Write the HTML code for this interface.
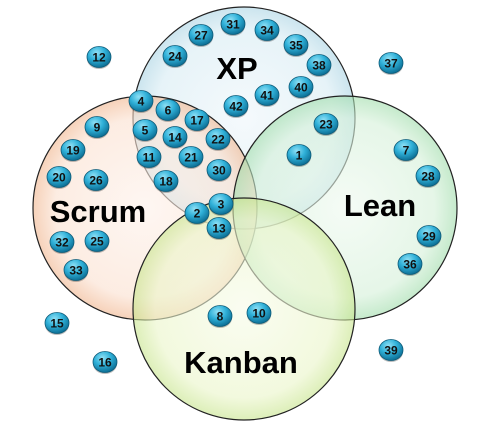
<!DOCTYPE html>
<html><head><style>body{margin:0;background:#fff}</style></head><body>
<svg width="482" height="428" xmlns="http://www.w3.org/2000/svg">
<defs>
<radialGradient id="gx" cx="50%" cy="50%" r="50%"><stop offset="0" stop-color="#eef6fa"/><stop offset="0.8" stop-color="#d6ebf3"/><stop offset="1" stop-color="#a9d3e3"/></radialGradient>
<radialGradient id="gs" cx="50%" cy="50%" r="50%"><stop offset="0" stop-color="#fdf1ea"/><stop offset="0.8" stop-color="#fbe0cf"/><stop offset="1" stop-color="#f0b48c"/></radialGradient>
<radialGradient id="gl" cx="50%" cy="50%" r="50%"><stop offset="0" stop-color="#eef9ef"/><stop offset="0.8" stop-color="#d4f0d8"/><stop offset="1" stop-color="#9fdcaa"/></radialGradient>
<radialGradient id="gk" cx="50%" cy="50%" r="50%"><stop offset="0" stop-color="#f7fbe8"/><stop offset="0.8" stop-color="#eaf5c8"/><stop offset="1" stop-color="#c6e48a"/></radialGradient>
<radialGradient id="gb" cx="40%" cy="30%" r="70%"><stop offset="0" stop-color="#8fe0f5"/><stop offset="0.5" stop-color="#2fb0d8"/><stop offset="1" stop-color="#0d6f95"/></radialGradient>
<g id="bb"><ellipse cx="0" cy="2" rx="12" ry="10" fill="#000" opacity="0.25"/><ellipse cx="0" cy="0" rx="12" ry="10.5" fill="url(#gb)" stroke="#0b5a78" stroke-width="0.8"/></g>
</defs>
<g fill-opacity="0.6" stroke="#222" stroke-width="1.2">
<circle cx="244" cy="118" r="111" fill="url(#gx)"/>
<circle cx="145" cy="208" r="112" fill="url(#gs)"/>
<circle cx="345" cy="208" r="112" fill="url(#gl)"/>
<circle cx="244" cy="309" r="111" fill="url(#gk)"/>
</g>
<g font-family="Liberation Sans, sans-serif" font-weight="bold" font-size="31" fill="#000" text-anchor="middle">
<text x="237" y="79">XP</text>
<text x="98" y="222">Scrum</text>
<text x="380" y="216">Lean</text>
<text x="241" y="373">Kanban</text>
</g>
<g>
<use href="#bb" x="233" y="24"/><use href="#bb" x="201" y="35"/><use href="#bb" x="267" y="30"/><use href="#bb" x="175" y="56"/><use href="#bb" x="296" y="45"/><use href="#bb" x="319" y="65"/><use href="#bb" x="99" y="57"/><use href="#bb" x="391" y="63"/><use href="#bb" x="301" y="87"/><use href="#bb" x="267" y="95"/><use href="#bb" x="236" y="106"/><use href="#bb" x="141" y="101"/><use href="#bb" x="168" y="110"/><use href="#bb" x="97" y="127"/><use href="#bb" x="197" y="120"/><use href="#bb" x="145" y="130"/><use href="#bb" x="175" y="137"/><use href="#bb" x="218" y="139"/><use href="#bb" x="326" y="124"/><use href="#bb" x="73" y="150"/><use href="#bb" x="149" y="157"/><use href="#bb" x="191" y="157"/><use href="#bb" x="299" y="155"/><use href="#bb" x="406" y="150"/><use href="#bb" x="59" y="177"/><use href="#bb" x="96" y="180"/><use href="#bb" x="166" y="181"/><use href="#bb" x="219" y="170"/><use href="#bb" x="428" y="176"/><use href="#bb" x="221" y="204"/><use href="#bb" x="197" y="213"/><use href="#bb" x="219" y="228"/><use href="#bb" x="62" y="242"/><use href="#bb" x="97" y="241"/><use href="#bb" x="429" y="236"/><use href="#bb" x="76" y="270"/><use href="#bb" x="410" y="264"/><use href="#bb" x="220" y="316"/><use href="#bb" x="259" y="313"/><use href="#bb" x="57" y="323"/><use href="#bb" x="391" y="350"/><use href="#bb" x="105" y="362"/>
</g>
<g font-family="Liberation Sans, sans-serif" font-weight="bold" font-size="12" text-anchor="middle" fill="#111">
<text x="233" y="28.5">31</text><text x="201" y="39.5">27</text><text x="267" y="34.5">34</text><text x="175" y="60.5">24</text><text x="296" y="49.5">35</text><text x="319" y="69.5">38</text><text x="99" y="61.5">12</text><text x="391" y="67.5">37</text><text x="301" y="91.5">40</text><text x="267" y="99.5">41</text><text x="236" y="110.5">42</text><text x="141" y="105.5">4</text><text x="168" y="114.5">6</text><text x="97" y="131.5">9</text><text x="197" y="124.5">17</text><text x="145" y="134.5">5</text><text x="175" y="141.5">14</text><text x="218" y="143.5">22</text><text x="326" y="128.5">23</text><text x="73" y="154.5">19</text><text x="149" y="161.5">11</text><text x="191" y="161.5">21</text><text x="299" y="159.5">1</text><text x="406" y="154.5">7</text><text x="59" y="181.5">20</text><text x="96" y="184.5">26</text><text x="166" y="185.5">18</text><text x="219" y="174.5">30</text><text x="428" y="180.5">28</text><text x="221" y="208.5">3</text><text x="197" y="217.5">2</text><text x="219" y="232.5">13</text><text x="62" y="246.5">32</text><text x="97" y="245.5">25</text><text x="429" y="240.5">29</text><text x="76" y="274.5">33</text><text x="410" y="268.5">36</text><text x="220" y="320.5">8</text><text x="259" y="317.5">10</text><text x="57" y="327.5">15</text><text x="391" y="354.5">39</text><text x="105" y="366.5">16</text>
</g>
</svg>
</body></html>
